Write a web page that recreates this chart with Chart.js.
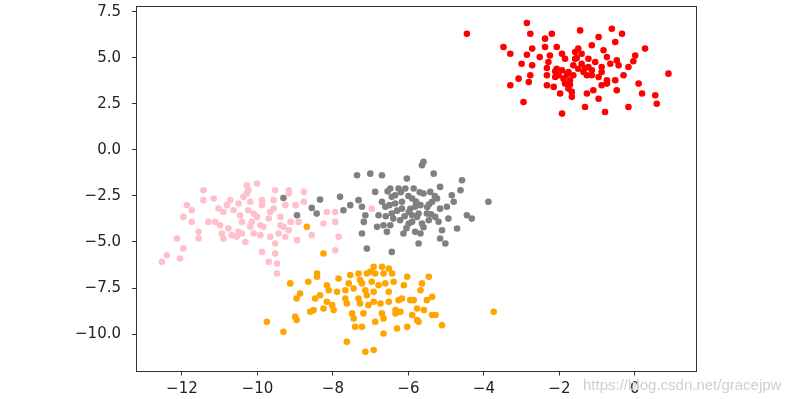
<!DOCTYPE html>
<html>
<head>
<meta charset="utf-8">
<script src="https://cdn.jsdelivr.net/npm/chart.js@4/dist/chart.umd.min.js"></script>
<style>
  body { margin:0; background:#fff; }
  #wrap { position:relative; width:793px; height:399px; }
  #mark { position:absolute; left:583px; top:376px; font:15px 'Liberation Sans', Arial, sans-serif; color:#cfcfcf;
          text-shadow:0 0 1px #fff; white-space:nowrap; }
</style>
</head>
<body>
<div id="wrap">
  <canvas id="c" width="793" height="399"></canvas>
  <div id="mark">https://blog.csdn.net/gracejpw</div>
</div>
<script>
// tick values
const xTicks = [-12, -10, -8, -6, -4, -2, 0];
const yTicks = [-10, -7.5, -5, -2.5, 0, 2.5, 5, 7.5];

// cluster 1 (red)
const redX = [-4.45,-2.86,-2.77,-2.20,-1.45,-0.61,-0.34,-0.96,-2.38,-0.52,-3.48,-3.30,-2.72,-2.86,-2.38,-2.07,-1.14,0.27,-2.52,-2.25,
  -1.93,-1.50,-1.41,-0.83,-0.74,0.01,-3.00,-2.72,-2.29,-1.85,-1.58,-1.23,-1.05,-0.48,-0.43,-0.04,-0.17,-0.65,-0.88,-1.41,
  -1.63,-2.07,-2.33,-1.93,-1.76,-1.36,-1.14,-2.33,-2.77,-3.08,-2.81,-3.30,-2.11,-1.89,-1.63,-1.14,-0.96,-0.74,-0.52,-0.30,
  0.89,-2.33,-2.15,-1.85,-1.76,-1.67,-1.67,-1.98,-1.27,-1.10,-0.88,-0.74,-0.48,0.10,0.19,0.54,0.58,-0.96,-1.32,-0.79,
  -0.17,-1.93,-2.95,-1.23,-0.88,-1.58,-2.02,-1.72,-1.50,-1.27,-1.54,-1.80,-1.32,-1.72,-2.11];
const redY = [6.31,6.89,6.31,6.31,6.49,6.58,6.31,6.13,6.04,5.86,5.59,5.22,5.50,5.17,5.59,5.59,5.68,5.50,5.04,5.13,
  5.22,5.50,5.22,5.41,5.04,5.13,4.68,4.59,4.77,4.95,4.95,4.95,4.77,4.86,4.59,4.81,4.50,4.68,4.50,4.68,
  4.59,4.41,4.45,4.32,4.23,4.23,4.32,4.05,4.05,3.87,3.69,3.51,3.96,3.87,4.05,4.05,3.96,3.78,3.78,4.05,
  4.14,3.51,3.42,3.60,3.33,3.15,2.88,3.06,3.06,3.24,3.51,3.60,3.24,3.60,3.06,2.97,2.51,2.78,2.33,2.06,
  2.33,1.97,2.60,4.50,4.23,5.32,4.05,3.78,4.41,4.05,4.99,4.09,4.45,3.54,4.27];

// cluster 2 (gray)
const grayX = [-9.31,-8.95,-8.56,-8.43,-8.34,-7.81,-7.72,-7.54,-7.36,-7.01,-6.70,-7.32,-7.23,-7.14,-7.18,-7.23,-7.10,-6.88,-6.79,-6.83,
  -6.70,-6.61,-6.57,-6.44,-6.48,-6.35,-6.44,-6.40,-6.48,-6.26,-6.17,-6.13,-6.04,-6.08,-5.99,-5.99,-5.90,-5.86,-5.82,-5.77,
  -5.68,-5.73,-5.64,-5.60,-5.60,-5.64,-5.51,-5.42,-5.33,-5.37,-5.29,-5.24,-5.16,-5.16,-5.11,-5.16,-5.02,-4.98,-4.94,-4.85,
  -4.80,-4.71,-4.62,-4.58,-4.45,-4.32,-3.88,-5.73,-6.35,-5.90,-6.17,-5.68,-6.66,-5.82,-6.22,-5.46,-6.44,
  -6.20,-6.00,-5.80,-5.50,-6.30,-6.10,-5.90,-5.40,-5.20,-6.50,-5.70,-5.30,-6.60,-5.60,-5.95,-6.55,-5.45,-6.05];
const grayY = [-2.61,-3.55,-3.15,-3.46,-2.70,-2.55,-3.28,-3.00,-1.38,-1.29,-1.38,-2.73,-3.09,-3.55,-3.91,-4.54,-5.36,-2.28,-3.55,-4.18,
  -2.82,-3.09,-4.45,-5.54,-2.10,-2.46,-3.46,-3.73,-4.09,-2.10,-2.82,-4.54,-1.56,-2.10,-3.37,-4.00,-2.64,-2.10,-3.09,-3.64,
  -4.54,-5.08,-0.83,-0.65,-2.37,-4.00,-3.46,-2.28,-1.29,-2.82,-3.64,-2.64,-2.01,-3.19,-4.36,-4.81,-5.08,-3.09,-3.73,-2.46,
  -2.82,-4.27,-2.19,-1.65,-3.55,-3.73,-2.82,-3.46,-2.91,-3.55,-3.19,-3.00,-4.09,-4.45,-3.82,-3.82,-2.55,
  -2.30,-2.50,-2.80,-3.10,-3.30,-3.60,-3.90,-3.50,-3.90,-3.00,-2.30,-2.50,-3.60,-4.20,-3.20,-2.25,-2.95,-4.25];

// cluster 3 (pink)
const pinkX = [-12.53,-12.40,-12.05,-11.96,-12.13,-11.56,-11.56,-11.96,-11.74,-11.87,-11.74,-11.43,-11.43,-11.16,-11.30,-11.12,-10.99,-11.03,-10.90,-10.81,
  -10.72,-10.94,-10.90,-10.77,-10.68,-10.55,-10.50,-10.46,-10.50,-10.41,-10.37,-10.28,-10.24,-10.28,-10.01,-10.19,-10.24,-10.41,-10.32,-10.19,
  -10.15,-10.10,-10.01,-9.92,-9.88,-9.88,-9.84,-9.70,-9.92,-9.88,-9.70,-9.57,-9.53,-9.57,-9.44,-9.66,-9.53,-9.53,-9.48,-9.48,
  -9.39,-9.39,-9.26,-9.31,-9.26,-9.17,-9.17,-9.12,-9.17,-8.99,-8.91,-8.95,-8.77,-8.77,-8.56,-8.25,-8.16,-7.94,-7.94,-7.85,
  -7.94,-10.10,-9.66,-10.63,-6.97];
const pinkY = [-6.08,-5.72,-5.90,-5.35,-4.81,-4.45,-4.81,-3.64,-3.91,-3.00,-3.28,-2.19,-2.73,-2.64,-3.91,-3.91,-4.09,-3.18,-3.37,-3.00,
  -2.73,-4.54,-4.81,-4.27,-4.63,-4.72,-4.45,-3.55,-2.91,-3.91,-2.55,-1.92,-2.19,-2.37,-1.83,-2.82,-3.28,-4.54,-5.00,-4.18,
  -3.91,-4.54,-3.64,-4.09,-2.73,-3.00,-4.18,-3.73,-4.63,-5.54,-6.08,-2.73,-2.19,-3.18,-4.54,-4.72,-5.08,-5.63,-6.17,-6.71,
  -3.64,-4.09,-3.00,-4.18,-4.72,-2.19,-2.37,-3.91,-4.36,-3.00,-3.91,-4.90,-2.28,-2.82,-4.63,-4.00,-3.37,-3.37,-3.91,-4.72,
  -5.45,-3.46,-3.37,-3.28,-3.19];

// cluster 4 (orange)
const orangeX = [-9.75,-9.31,-9.13,-9.00,-8.96,-8.96,-8.87,-8.65,-8.42,-8.42,-8.60,-8.51,-8.47,-8.34,-8.25,-8.16,-8.11,-8.16,-8.02,-7.98,
  -7.89,-7.85,-7.67,-7.67,-7.63,-7.63,-7.54,-7.45,-7.49,-7.45,-7.41,-7.32,-7.28,-7.32,-7.28,-7.19,-7.23,-7.14,-7.10,-7.01,
  -7.14,-7.10,-7.06,-6.92,-6.92,-6.97,-6.92,-6.92,-6.88,-6.79,-6.74,-6.70,-6.66,-6.70,-6.66,-6.66,-6.61,-6.52,-6.52,-6.52,
  -6.43,-6.39,-6.34,-6.34,-6.30,-6.26,-6.17,-6.21,-6.12,-6.03,-6.03,-5.95,-5.86,-5.90,-5.77,-5.77,-5.73,-5.68,-5.64,-5.59,
  -5.51,-5.46,-5.37,-5.37,-5.28,-5.11,-3.74,-7.58,-7.23,-6.88,-8.69,-8.25];
const orangeY = [-9.33,-9.88,-7.25,-9.06,-9.24,-8.07,-7.80,-7.16,-6.71,-6.89,-8.79,-8.70,-8.07,-7.89,-8.61,-7.35,-7.62,-8.25,-8.43,-8.70,
  -7.71,-6.98,-7.62,-8.07,-8.34,-10.42,-6.80,-7.53,-8.88,-9.15,-9.61,-6.71,-7.07,-8.07,-8.34,-8.88,-9.61,-10.96,-6.71,-6.62,
  -7.62,-7.89,-8.43,-10.87,-6.35,-7.16,-7.71,-8.25,-9.33,-7.35,-8.34,-6.35,-6.71,-8.88,-9.15,-9.97,-7.25,-6.44,-7.71,-8.25,
  -6.71,-7.16,-8.70,-8.88,-9.70,-8.16,-8.07,-8.79,-7.35,-6.89,-9.61,-8.16,-8.16,-8.97,-8.61,-9.24,-9.33,-7.62,-7.25,-8.70,
  -8.16,-6.89,-7.98,-8.97,-8.97,-9.52,-8.79,-7.25,-7.25,-6.71,-4.18,-5.63];

const pts = (xs, ys) => xs.map((x, i) => ({ x, y: ys[i] }));
const minus = s => s.replace('-', '\u2212');
const font = { family: "'DejaVu Sans', sans-serif", size: 15 };

const frame = {
  id: 'frame',
  afterDraw(chart) {
    const { ctx, chartArea: a } = chart;
    ctx.save();
    ctx.strokeStyle = '#333';
    ctx.lineWidth = 1;
    ctx.strokeRect(Math.round(a.left) - 0.5, Math.round(a.top) - 0.5, Math.round(a.right - a.left) + 1, Math.round(a.bottom - a.top) + 1);
    ctx.restore();
  }
};

const ds = (label, data, color, order) => ({
  label, data, backgroundColor: color, borderWidth: 0, pointRadius: 3.3, pointHoverRadius: 3.3, order
});

new Chart(document.getElementById('c'), {
  type: 'scatter',
  data: {
    datasets: [
      ds('red', pts(redX, redY), '#ff0000', 4),
      ds('gray', pts(grayX, grayY), '#808080', 3),
      ds('pink', pts(pinkX, pinkY), '#ffc0cb', 2),
      ds('orange', pts(orangeX, orangeY), '#ffa500', 1)
    ]
  },
  options: {
    responsive: false,
    animation: false,
    layout: { padding: { top: 7, right: 97, left: 0, bottom: 0 } },
    plugins: { legend: { display: false }, tooltip: { enabled: false } },
    scales: {
      x: {
        type: 'linear', min: -13.19, max: 1.62,
        afterBuildTicks: s => { s.ticks = xTicks.map(v => ({ value: v })); },
        afterFit: s => { s.height = 28.5; s.paddingLeft = 0; s.paddingRight = 0; },
        ticks: { font, color: '#222', padding: 5, maxRotation: 0, autoSkip: false,
          callback: v => minus(String(v)) },
        grid: { drawOnChartArea: false, tickLength: 5, color: '#333' },
        border: { display: false }
      },
      y: {
        type: 'linear', min: -11.98, max: 7.76,
        afterBuildTicks: s => { s.ticks = yTicks.map(v => ({ value: v })); },
        afterFit: s => { s.width = 137; s.paddingTop = 0; s.paddingBottom = 0; },
        ticks: { font, color: '#222', padding: 11, autoSkip: false,
          callback: v => minus(v.toFixed(1)) },
        grid: { drawOnChartArea: false, tickLength: 5, color: '#333' },
        border: { display: false }
      }
    }
  },
  plugins: [frame]
});
</script>
</body>
</html>
